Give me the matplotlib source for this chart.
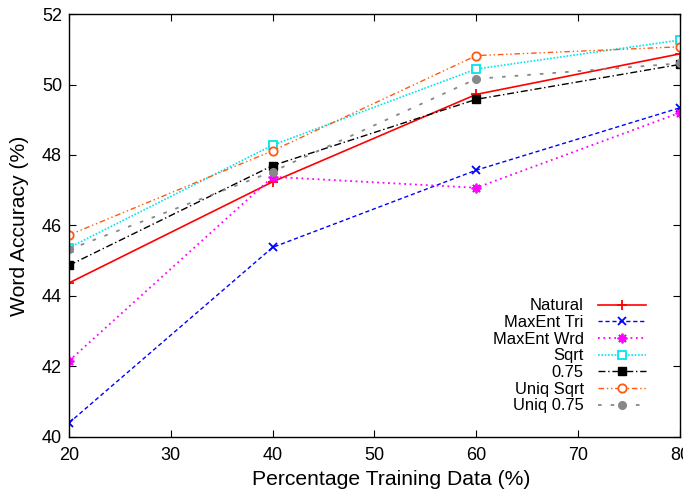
import matplotlib
matplotlib.use('Agg')
import matplotlib.pyplot as plt

plt.rcParams['font.family'] = ['Liberation Sans', 'DejaVu Sans']

pct = [20, 40, 60, 80]
natural = [44.37, 47.24, 49.72, 50.87]
maxent_tri = [40.40, 45.38, 47.57, 49.34]
maxent_wrd = [42.16, 47.38, 47.07, 49.20]
sqrt_ = [45.37, 48.28, 50.44, 51.26]
p075 = [44.87, 47.70, 49.58, 50.57]
uniq_sqrt = [45.73, 48.12, 50.82, 51.07]
uniq_075 = [45.32, 47.53, 50.16, 50.60]

fig = plt.figure(figsize=(6.83, 4.93), dpi=100)
ax = fig.add_axes([0.101, 0.1136, 0.8946, 0.858])

ax.plot(pct, natural, color='#ff0000', ls='-', lw=1.2, marker='+', ms=7, mew=1.3, label='Natural')
ax.plot(pct, maxent_tri, color='#0000ff', ls=(0, (3, 2)), lw=1.0, marker='x', ms=6, mew=1.3, label='MaxEnt Tri')
ax.plot(pct, maxent_wrd, color='#ff00ff', ls=(0, (1, 2)), lw=1.3, marker=(8, 2, 0), ms=7, mew=1.3, label='MaxEnt Wrd')
ax.plot(pct, sqrt_, color='#00e5ee', ls=(0, (1, 1)), lw=1.2, marker='s', ms=6, mfc='white', mew=1.3, label='Sqrt')
ax.plot(pct, p075, color='#000000', ls=(0, (5, 2, 1, 2)), lw=1.0, marker='s', ms=6, label='0.75')
ax.plot(pct, uniq_sqrt, color='#ff5a10', ls=(0, (4, 2, 1, 2, 1, 2)), lw=1.0, marker='o', ms=6, mfc='white', mew=1.3, label='Uniq Sqrt')
ax.plot(pct, uniq_075, color='#888888', ls=(0, (2, 5)), lw=1.3, marker='o', ms=5.5, label='Uniq 0.75')

ax.set_xlim(20, 80)
ax.set_ylim(40, 52)
ax.set_xticks(range(20, 81, 10))
ax.set_yticks(range(40, 53, 2))
ax.tick_params(direction='in', top=True, right=True, labelsize=13, length=5)
ax.tick_params(axis='x', pad=7)
ax.tick_params(axis='y', pad=5)
for s in ax.spines.values():
    s.set_linewidth(1.0)
ax.set_xlabel('Percentage Training Data (%)', fontsize=15.2)
ax.set_ylabel('Word Accuracy (%)', fontsize=15.2)
ax.xaxis.set_label_coords(0.528, -0.077)
ax.yaxis.set_label_coords(-0.066, 0.5)

ax.legend(loc='lower right', bbox_to_anchor=(0.944, 0.056), frameon=False, markerfirst=False,
          fontsize=11.9, handlelength=2.9, handletextpad=0.85, labelspacing=0.1,
          borderpad=0, borderaxespad=0)

fig.savefig('out.png', dpi=100)
